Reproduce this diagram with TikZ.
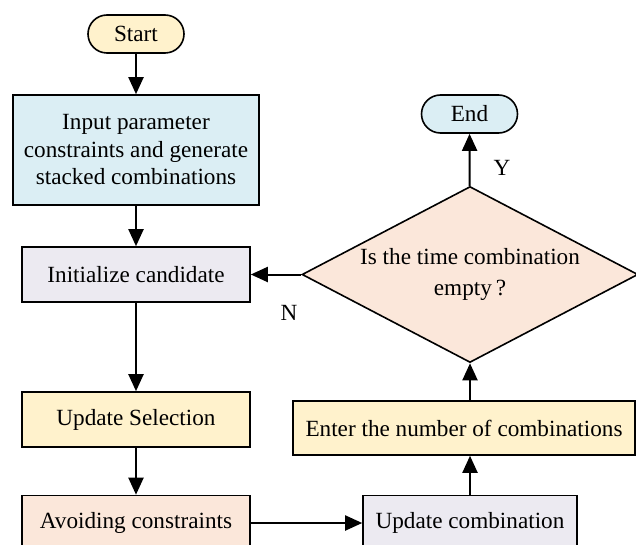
\documentclass[tikz,border=0pt]{standalone}
\usepackage{fontspec}
\setmainfont{Liberation Serif}
\usetikzlibrary{shapes.geometric,arrows.meta}
\definecolor{paleyellow}{HTML}{FFF2CC}
\definecolor{paleblue}{HTML}{DBEEF4}
\definecolor{palelilac}{HTML}{ECEAF1}
\definecolor{palepeach}{HTML}{FBE7DA}
\begin{document}
\begin{tikzpicture}[x=0.5pt,y=-0.5pt,
  font=\fontsize{11.6}{13.75}\selectfont,
  terminal/.style={rounded corners=9.5pt,draw,line width=0.8pt,minimum width=48pt,minimum height=19pt,inner sep=0pt},
  proc/.style={rectangle,draw,line width=0.8pt,minimum width=114pt,minimum height=27.5pt,inner sep=0pt,align=center},
  decide/.style={diamond,aspect=1.91,draw,line width=0.8pt,minimum width=168pt,minimum height=88pt,inner sep=0pt,align=center},
  flow/.style={line width=1pt,-{Triangle[length=8.5pt,width=7.5pt]}}]

  \useasboundingbox (0,0) rectangle (636,545);

  \node[terminal,fill=paleyellow] (start) at (136,34){Start};
  \node[proc,fill=paleblue,minimum width=123pt,minimum height=55pt] (input) at (136,150)
     {Input parameter\\constraints and generate\\stacked combinations};
  \node[proc,fill=palelilac] (init) at (136,274.5){Initialize candidate};
  \node[proc,fill=paleyellow] (select) at (136,419.5){Update Selection};
  \node[proc,fill=palepeach] (avoid) at (136,523){Avoiding constraints};
  \node[proc,fill=palelilac,minimum width=107pt] (combine) at (470,523){Update combination};
  \node[proc,fill=paleyellow,minimum width=171pt,minimum height=27pt] (enter) at (464,428)
     {Enter the number of combinations};
  \node[decide,fill=palepeach] (cond) at (470,274.5){Is the time combination\\[2pt]empty\,?};
  \node[terminal,fill=paleblue] (stop) at (469.5,114){End};

  \node (yes) at (502,168){Y};
  \node (no) at (289,313){N};

  \path[flow]
     (start) edge (input)
   (input) edge (init)
   (init) edge (select)
   (select) edge (avoid)
   (avoid) edge (combine)
   (combine.north) edge (combine.north |- enter.south)
   (combine.north |- enter.north) edge (cond.south)
   (cond) edge (init)
   (cond) edge (stop);
\end{tikzpicture}
\end{document}
